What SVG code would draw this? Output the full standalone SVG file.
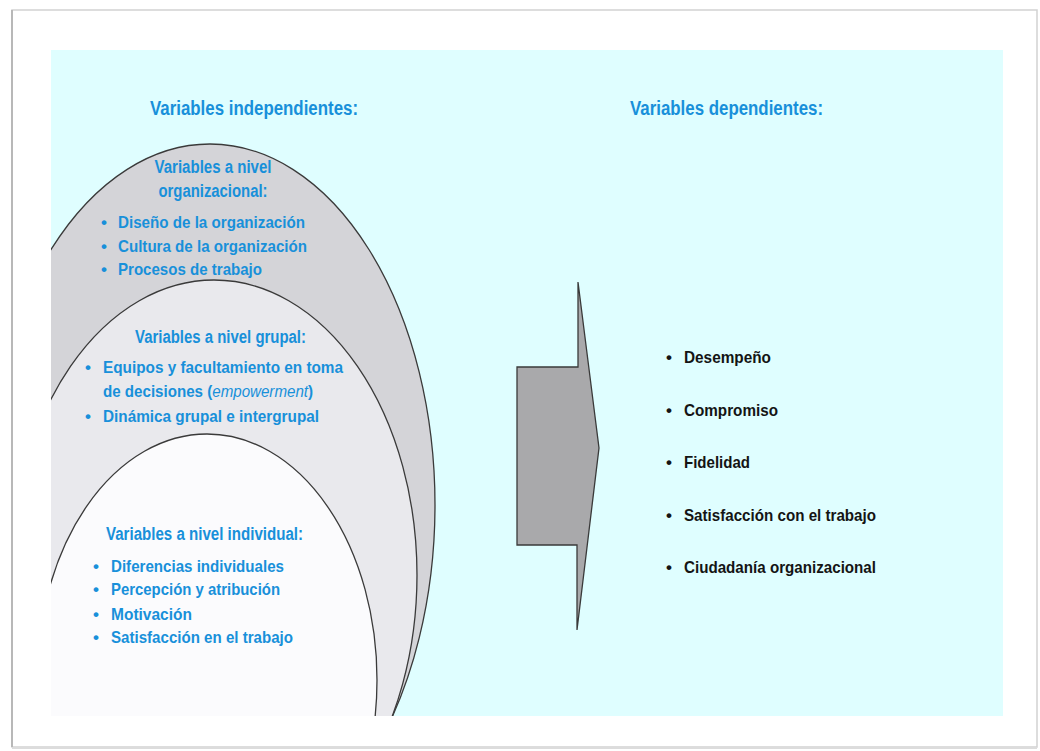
<svg xmlns="http://www.w3.org/2000/svg" width="1040" height="751" viewBox="0 0 1040 751">
<defs>
<clipPath id="panel"><rect x="51" y="50" width="952" height="666"/></clipPath>
<style>
.h{font-family:"Liberation Sans Narrow","Liberation Sans",Arial,sans-serif;font-weight:bold;fill:#1890DA;font-size:20px}
.s{font-family:"Liberation Sans Narrow","Liberation Sans",Arial,sans-serif;font-weight:bold;fill:#1890DA;font-size:17.5px}
.b{font-family:"Liberation Sans Narrow","Liberation Sans",Arial,sans-serif;fill:#1890DA;font-size:17px;font-weight:bold}
.k{font-family:"Liberation Sans Narrow","Liberation Sans",Arial,sans-serif;fill:#141414;font-size:17px;font-weight:bold}
.e{stroke:#3a3a3a;stroke-width:1.3}
</style>
</defs>
<rect width="1040" height="751" fill="#ffffff"/>
<!-- page frame -->
<rect x="12" y="10" width="1025" height="737" fill="#ffffff" stroke="#d2d2d2" stroke-width="1.5"/>
<line x1="12" y1="10" x2="12" y2="747" stroke="#b8b8b8" stroke-width="2"/>
<line x1="12" y1="748" x2="1037" y2="748" stroke="#dcdcdc" stroke-width="2"/>
<rect x="51" y="50" width="952" height="666" fill="#DFFEFF"/>

<g id="panel-shapes" clip-path="url(#panel)">
<ellipse id="org-shape" class="e" cx="210" cy="505" rx="225" ry="361" fill="#D4D4D8"/>
<ellipse id="grupal-shape" class="e" cx="214" cy="575" rx="203" ry="295" fill="#E9E9ED"/>
<ellipse id="individual-shape" class="e" cx="207" cy="680" rx="170" ry="246" fill="#FBFBFD"/>
</g>

<g id="independientes">
<text class="h" x="150" y="115" textLength="208" lengthAdjust="spacingAndGlyphs">Variables independientes:</text>
</g>

<g id="org">
<text class="s" x="213" y="173" text-anchor="middle" textLength="117" lengthAdjust="spacingAndGlyphs">Variables a nivel</text>
<text class="s" x="213" y="197" text-anchor="middle" textLength="109" lengthAdjust="spacingAndGlyphs">organizacional:</text>
<text class="b" x="101" y="228">•</text>
<text class="b" x="118" y="228" textLength="187" lengthAdjust="spacingAndGlyphs">Diseño de la organización</text>
<text class="b" x="101" y="252">•</text>
<text class="b" x="118" y="252" textLength="189" lengthAdjust="spacingAndGlyphs">Cultura de la organización</text>
<text class="b" x="101" y="275">•</text>
<text class="b" x="118" y="275" textLength="144" lengthAdjust="spacingAndGlyphs">Procesos de trabajo</text>
</g>

<g id="grupal">
<text class="s" x="135" y="343" textLength="171" lengthAdjust="spacingAndGlyphs">Variables a nivel grupal:</text>
<text class="b" x="85" y="373">•</text>
<text class="b" x="103" y="373" textLength="240" lengthAdjust="spacingAndGlyphs">Equipos y facultamiento en toma</text>
<text class="b" x="0" y="0" transform="translate(103,397) scale(0.89,1)">de decisiones (<tspan font-style="italic" font-weight="normal">empowerment</tspan>)</text>
<text class="b" x="85" y="422">•</text>
<text class="b" x="103" y="422" textLength="216" lengthAdjust="spacingAndGlyphs">Dinámica grupal e intergrupal</text>
</g>

<g id="individual">
<text class="s" x="106" y="540" textLength="197" lengthAdjust="spacingAndGlyphs">Variables a nivel individual:</text>
<text class="b" x="93" y="572">•</text>
<text class="b" x="111" y="572" textLength="173" lengthAdjust="spacingAndGlyphs">Diferencias individuales</text>
<text class="b" x="93" y="595">•</text>
<text class="b" x="111" y="595" textLength="169" lengthAdjust="spacingAndGlyphs">Percepción y atribución</text>
<text class="b" x="93" y="620">•</text>
<text class="b" x="111" y="620" textLength="81" lengthAdjust="spacingAndGlyphs">Motivación</text>
<text class="b" x="93" y="643">•</text>
<text class="b" x="111" y="643" textLength="182" lengthAdjust="spacingAndGlyphs">Satisfacción en el trabajo</text>
</g>

<g id="connectors">
<path id="big-arrow" d="M517,367 H578 V282 L599,448 L577,630 V545 H517 Z" fill="#A9A9AB" stroke="#3a3a3a" stroke-width="1.3" stroke-linejoin="miter"/>
</g>

<g id="dependientes">
<text class="h" x="630" y="115" textLength="193" lengthAdjust="spacingAndGlyphs">Variables dependientes:</text>
<text class="k" x="666" y="363">•</text>
<text class="k" x="684" y="363" textLength="87" lengthAdjust="spacingAndGlyphs">Desempeño</text>
<text class="k" x="666" y="416">•</text>
<text class="k" x="684" y="416" textLength="94" lengthAdjust="spacingAndGlyphs">Compromiso</text>
<text class="k" x="666" y="468">•</text>
<text class="k" x="684" y="468" textLength="66" lengthAdjust="spacingAndGlyphs">Fidelidad</text>
<text class="k" x="666" y="521">•</text>
<text class="k" x="684" y="521" textLength="192" lengthAdjust="spacingAndGlyphs">Satisfacción con el trabajo</text>
<text class="k" x="666" y="573">•</text>
<text class="k" x="684" y="573" textLength="192" lengthAdjust="spacingAndGlyphs">Ciudadanía organizacional</text>
</g>
</svg>
